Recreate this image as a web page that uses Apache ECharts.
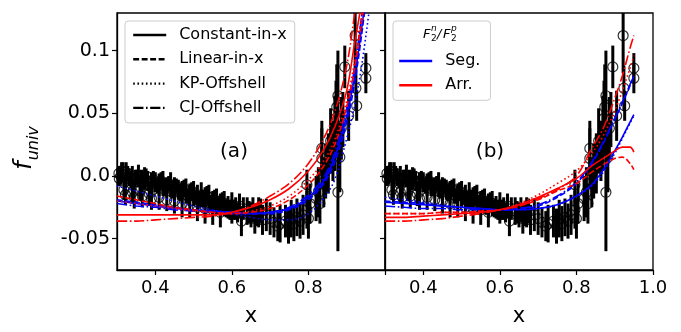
<!DOCTYPE html>
<html>
<head>
<meta charset="utf-8">
<script src="https://cdn.jsdelivr.net/npm/echarts@6/dist/echarts.min.js"></script>
<style>
  html, body { margin: 0; padding: 0; background: #fff; }
  #chart { width: 681px; height: 332px; }
</style>
</head>
<body>
<div id="chart"></div>
<script>
// measured points (same data in both panels)
const ptX = [
  0.305, 0.310, 0.316, 0.324, 0.332, 0.340, 0.348, 0.356, 0.364, 0.372,
  0.380, 0.390, 0.400, 0.410, 0.420, 0.430, 0.440, 0.450, 0.460, 0.470,
  0.480, 0.490, 0.500, 0.510, 0.520, 0.530, 0.540, 0.550, 0.560, 0.570,
  0.580, 0.590, 0.600, 0.610, 0.620,
  0.318, 0.322, 0.340, 0.345, 0.360, 0.366, 0.384, 0.390, 0.410, 0.430,
  0.450, 0.470, 0.490, 0.510, 0.530, 0.550, 0.570,
  0.306, 0.312, 0.328, 0.336, 0.352, 0.368, 0.376, 0.395, 0.405, 0.415,
  0.425, 0.435, 0.445, 0.455, 0.465, 0.475, 0.485, 0.495, 0.505, 0.515,
  0.525, 0.535, 0.545, 0.555, 0.565, 0.575, 0.585, 0.595, 0.605, 0.615,
  0.630, 0.645, 0.655, 0.665, 0.675,
  0.600, 0.625, 0.640, 0.650, 0.660, 0.670, 0.680, 0.690, 0.700, 0.710,
  0.720, 0.726, 0.740, 0.748, 0.755, 0.762, 0.770, 0.778, 0.786, 0.796,
  0.800, 0.804, 0.796,
  0.820, 0.826, 0.830, 0.835, 0.835, 0.840, 0.845, 0.852, 0.858, 0.864,
  0.869, 0.872, 0.874, 0.877, 0.877, 0.882, 0.886, 0.890, 0.895, 0.905,
  0.922, 0.924, 0.926, 0.950, 0.950
];
const ptY = [
  0.002, 0.000, 0.003, 0.001, -0.001, 0.000, -0.002, 0.000, -0.003, -0.002,
  -0.004, -0.006, -0.005, -0.007, -0.006, -0.009, -0.007, -0.010, -0.011, -0.013,
  -0.012, -0.015, -0.014, -0.016, -0.015, -0.018, -0.017, -0.021, -0.020, -0.023,
  -0.022, -0.025, -0.023, -0.026, -0.024,
  -0.011, -0.015, -0.013, -0.017, -0.012, -0.016, -0.014, -0.018, -0.017, -0.019,
  -0.020, -0.022, -0.023, -0.025, -0.026, -0.027, -0.029,
  -0.002, 0.004, 0.002, -0.003, -0.001, -0.004, 0.000, -0.003, -0.008, -0.004,
  -0.009, -0.006, -0.011, -0.008, -0.013, -0.010, -0.016, -0.012, -0.017, -0.019,
  -0.018, -0.016, -0.022, -0.019, -0.024, -0.021, -0.026, -0.027, -0.027, -0.029,
  -0.026, -0.029, -0.027, -0.031, -0.028,
  -0.030, -0.036, -0.028, -0.031, -0.034, -0.029, -0.035, -0.031, -0.034, -0.037,
  -0.040, -0.038, -0.036, -0.040, -0.034, -0.038, -0.033, -0.036, -0.031, -0.027,
  -0.034, -0.022, -0.007,
  -0.018, -0.013, -0.022, 0.014, 0.022, -0.005, 0.004, 0.010, 0.028, 0.020,
  0.034, 0.046, 0.055, 0.064, -0.013, 0.015, 0.038, 0.045, 0.087, 0.048,
  0.112, 0.070, 0.056, 0.086, 0.078
];
const ptErr = [
  0.006, 0.007, 0.008, 0.010, 0.007, 0.008, 0.007, 0.009, 0.008, 0.009,
  0.008, 0.009, 0.008, 0.009, 0.010, 0.008, 0.010, 0.009, 0.008, 0.009,
  0.010, 0.009, 0.010, 0.009, 0.010, 0.009, 0.010, 0.009, 0.010, 0.009,
  0.010, 0.009, 0.010, 0.009, 0.010,
  0.008, 0.008, 0.009, 0.009, 0.008, 0.009, 0.010, 0.009, 0.010, 0.009,
  0.010, 0.011, 0.010, 0.011, 0.012, 0.012, 0.012,
  0.006, 0.007, 0.006, 0.007, 0.006, 0.007, 0.006, 0.007, 0.006, 0.007,
  0.007, 0.006, 0.007, 0.006, 0.007, 0.007, 0.006, 0.007, 0.006, 0.007,
  0.007, 0.008, 0.007, 0.008, 0.007, 0.008, 0.007, 0.008, 0.008, 0.008,
  0.009, 0.009, 0.010, 0.009, 0.010,
  0.008, 0.012, 0.011, 0.010, 0.012, 0.012, 0.012, 0.013, 0.013, 0.012,
  0.012, 0.015, 0.013, 0.014, 0.015, 0.014, 0.015, 0.014, 0.016, 0.015,
  0.016, 0.016, 0.012,
  0.018, 0.020, 0.016, 0.024, 0.022, 0.020, 0.022, 0.024, 0.026, 0.024,
  0.030, 0.030, 0.034, 0.036, 0.047, 0.028, 0.025, 0.022, 0.017, 0.020,
  0.030, 0.018, 0.012, 0.012, 0.012
];

// model curves, panel (a)
const xA = [0.3, 0.35, 0.4, 0.45, 0.5, 0.55, 0.6, 0.65, 0.7, 0.75, 0.8, 0.84, 0.87, 0.9, 0.92, 0.94, 0.96];
const aBlueSolid   = [-0.020, -0.022, -0.024, -0.026, -0.027, -0.028, -0.029, -0.030, -0.029, -0.026, -0.017, -0.004, 0.016, 0.048, 0.078, 0.120, 0.170];
const aBlueDashed  = [-0.019, -0.021, -0.023, -0.025, -0.027, -0.028, -0.029, -0.030, -0.030, -0.027, -0.019, -0.006, 0.012, 0.043, 0.073, 0.115, 0.165];
const aBlueDotted  = [-0.008, -0.012, -0.016, -0.020, -0.024, -0.027, -0.030, -0.033, -0.035, -0.035, -0.030, -0.018, -0.002, 0.030, 0.055, 0.090, 0.135];
const aBlueDashDot = [-0.022, -0.024, -0.025, -0.027, -0.028, -0.029, -0.030, -0.030, -0.029, -0.025, -0.015, -0.001, 0.020, 0.054, 0.085, 0.130, 0.180];
const aRedSolid    = [-0.031, -0.031, -0.031, -0.031, -0.031, -0.031, -0.029, -0.025, -0.019, -0.010, 0.004, 0.021, 0.040, 0.068, 0.105, 0.140, 0.180];
const aRedDashed   = [-0.016, -0.019, -0.022, -0.025, -0.027, -0.029, -0.030, -0.029, -0.026, -0.019, -0.007, 0.008, 0.026, 0.055, 0.085, 0.125, 0.170];
const aRedDotted   = [-0.020, -0.022, -0.024, -0.026, -0.028, -0.029, -0.030, -0.028, -0.024, -0.016, -0.003, 0.012, 0.030, 0.060, 0.090, 0.130, 0.175];
const aRedDashDot  = [-0.036, -0.036, -0.035, -0.034, -0.033, -0.032, -0.029, -0.024, -0.016, -0.006, 0.010, 0.030, 0.052, 0.088, 0.128, 0.175, 0.220];

// model curves, panel (b)
const xB = [0.3, 0.35, 0.4, 0.45, 0.5, 0.55, 0.6, 0.65, 0.7, 0.75, 0.8, 0.84, 0.87, 0.9, 0.92, 0.94, 0.95];
const bBlueSolid   = [-0.021, -0.022, -0.023, -0.024, -0.025, -0.026, -0.027, -0.027, -0.026, -0.023, -0.016, -0.007, 0.005, 0.020, 0.031, 0.043, 0.049];
const bBlueDashed  = [-0.020, -0.021, -0.022, -0.024, -0.025, -0.026, -0.027, -0.026, -0.024, -0.017, -0.006, 0.010, 0.026, 0.045, 0.058, 0.072, 0.080];
const bBlueDotted  = [-0.017, -0.019, -0.021, -0.023, -0.025, -0.026, -0.027, -0.027, -0.026, -0.023, -0.016, -0.008, 0.003, 0.018, 0.030, 0.042, 0.048];
const bBlueDashDot = [-0.024, -0.025, -0.026, -0.026, -0.027, -0.027, -0.027, -0.026, -0.023, -0.016, -0.005, 0.011, 0.027, 0.046, 0.059, 0.073, 0.080];
const bRedSolid    = [-0.033, -0.033, -0.032, -0.031, -0.030, -0.029, -0.027, -0.023, -0.017, -0.010, -0.002, 0.008, 0.014, 0.020, 0.023, 0.023, 0.019];
const bRedDashed   = [-0.030, -0.030, -0.030, -0.029, -0.029, -0.028, -0.027, -0.024, -0.019, -0.012, -0.006, 0.003, 0.009, 0.014, 0.015, 0.010, 0.005];
const bRedDotted   = [-0.030, -0.030, -0.030, -0.029, -0.029, -0.028, -0.027, -0.022, -0.015, -0.006, 0.004, 0.018, 0.032, 0.052, 0.068, 0.086, 0.096];
const bRedDashDot  = [-0.036, -0.036, -0.035, -0.034, -0.032, -0.030, -0.027, -0.024, -0.018, -0.011, 0.000, 0.022, 0.038, 0.062, 0.080, 0.102, 0.112];

const modelNames = ['Constant-in-x', 'Linear-in-x', 'KP-Offshell', 'CJ-Offshell'];
const ratioNames = ['Seg.', 'Arr.'];
const xTicks = [0.4, 0.6, 0.8, 1.0];
const yTicks = [-0.05, 0, 0.05, 0.1];

const BLUE = '#0000ff', RED = '#ff0000';
const LW = 1.6;
const dashes = {
  solid: 'solid',
  dashed: [3.7 * LW, 1.6 * LW],
  dotted: [1 * LW, 1.65 * LW],
  dashdot: [6.4 * LW, 1.6 * LW, 1 * LW, 1.6 * LW]
};
const FONT = 'DejaVu Sans';

const chart = echarts.init(document.getElementById('chart'));

function curve(g, xs, ys, color, dash) {
  return {
    type: 'line',
    xAxisIndex: g, yAxisIndex: g,
    data: xs.map(function (x, i) { return [x, ys[i]]; }),
    symbol: 'none',
    smooth: 0.35,
    clip: true,
    silent: true,
    lineStyle: { color: color, width: LW, type: dash },
    z: 4
  };
}

function errBars(g) {
  return {
    type: 'custom',
    xAxisIndex: g, yAxisIndex: g,
    data: ptX.map(function (x, i) { return [x, ptY[i], ptErr[i]]; }),
    encode: { x: 0, y: 1 },
    silent: true,
    z: 2,
    renderItem: function (params, api) {
      const x = api.value(0), y = api.value(1), e = api.value(2);
      const a = api.coord([x, y + e]);
      const b = api.coord([x, y - e]);
      const cs = params.coordSys;
      return {
        type: 'line',
        shape: { x1: a[0], y1: Math.max(a[1], cs.y), x2: b[0], y2: Math.min(b[1], cs.y + cs.height) },
        style: { stroke: '#000', lineWidth: 3 }
      };
    }
  };
}

function circles(g) {
  return {
    type: 'scatter',
    xAxisIndex: g, yAxisIndex: g,
    data: ptX.map(function (x, i) { return [x, ptY[i]]; }),
    symbol: 'circle',
    symbolSize: 10,
    silent: true,
    itemStyle: { color: 'rgba(0,0,0,0)', borderColor: '#000', borderWidth: 1.2 },
    z: 3
  };
}

function panelSeries(g, xs, set) {
  return [
    errBars(g), circles(g),
    curve(g, xs, set[0], BLUE, dashes.solid),
    curve(g, xs, set[1], BLUE, dashes.dashed),
    curve(g, xs, set[2], BLUE, dashes.dotted),
    curve(g, xs, set[3], BLUE, dashes.dashdot),
    curve(g, xs, set[4], RED, dashes.solid),
    curve(g, xs, set[5], RED, dashes.dashed),
    curve(g, xs, set[6], RED, dashes.dotted),
    curve(g, xs, set[7], RED, dashes.dashdot)
  ];
}

// empty series that only feed the legends (transparent symbol -> line-only icon)
const styleList = [dashes.solid, dashes.dashed, dashes.dotted, dashes.dashdot];
const hiddenMark = { color: 'rgba(0,0,0,0)', borderColor: 'rgba(0,0,0,0)', borderWidth: 0 };
const legendSeries = modelNames.map(function (n, i) {
  return { type: 'line', name: n, data: [], symbol: 'none', lineStyle: { color: '#000', width: 2.4, type: styleList[i] }, itemStyle: hiddenMark };
}).concat(ratioNames.map(function (n, i) {
  const c = i === 0 ? BLUE : RED;
  return { type: 'line', name: n, data: [], symbol: 'none', lineStyle: { color: c, width: 2.4 }, itemStyle: hiddenMark };
}));

function xAxisFor(g) {
  return {
    type: 'value', gridIndex: g, min: 0.3, max: 1.0,
    axisLine: { show: true, onZero: false, lineStyle: { color: '#000', width: 1.3 } },
    axisTick: { show: true, length: 5, customValues: xTicks, lineStyle: { color: '#000', width: 1.2 } },
    axisLabel: {
      customValues: g === 0 ? xTicks.slice(0, 3) : xTicks,
      formatter: function (v) { return v.toFixed(1); },
      fontSize: 18, fontFamily: FONT, color: '#000', margin: 9
    },
    splitLine: { show: false },
    name: 'x', nameLocation: 'middle', nameGap: 36,
    nameTextStyle: { fontSize: 21, fontFamily: FONT, color: '#000' }
  };
}

function yAxisFor(g) {
  return {
    type: 'value', gridIndex: g, min: -0.075, max: 0.13,
    axisLine: { show: true, onZero: false, lineStyle: { color: '#000', width: 1.3 } },
    axisTick: { show: true, length: 5, customValues: yTicks, lineStyle: { color: '#000', width: 1.2 } },
    axisLabel: {
      show: g === 0,
      customValues: yTicks,
      formatter: function (v) { return v === 0 ? '0.0' : String(v); },
      fontSize: 19, fontFamily: FONT, color: '#000', margin: 7
    },
    splitLine: { show: false }
  };
}

const legendBox = {
  orient: 'vertical',
  itemWidth: 33, itemHeight: 14, itemGap: 8.3,
  backgroundColor: 'rgba(255,255,255,0.85)',
  borderColor: '#cccccc', borderWidth: 1, borderRadius: 3,
  selectedMode: false,
  lineStyle: { width: 2.4 },
  textStyle: { fontSize: 16, fontFamily: FONT, color: '#000', padding: [0, 0, 0, 8] }
};

const option = {
  animation: false,
  backgroundColor: '#fff',
  grid: [
    { left: 117, top: 13, width: 268, height: 265, show: true, borderColor: '#000', borderWidth: 1.3, backgroundColor: 'transparent' },
    { left: 385, top: 13, width: 268, height: 265, show: true, borderColor: '#000', borderWidth: 1.3, backgroundColor: 'transparent' }
  ],
  xAxis: [xAxisFor(0), xAxisFor(1)],
  yAxis: [yAxisFor(0), yAxisFor(1)],
  legend: [
    Object.assign({}, legendBox, { data: modelNames, left: 125, top: 21, padding: [6, 8, 7, 7] }),
    Object.assign({}, legendBox, { data: ratioNames, left: 393, top: 21, padding: [32, 10, 7, 5] })
  ],
  graphic: [
    { type: 'text', x: 234, y: 152, z: 50, style: { text: '(a)', font: '20px "DejaVu Sans"', fill: '#000', textAlign: 'center', textVerticalAlign: 'middle' } },
    { type: 'text', x: 490, y: 152, z: 50, style: { text: '(b)', font: '20px "DejaVu Sans"', fill: '#000', textAlign: 'center', textVerticalAlign: 'middle' } },
    {
      type: 'text', x: 27, y: 148, rotation: Math.PI / 2, z: 50,
      style: {
        text: '{f|f}{s|univ}', textAlign: 'center', textVerticalAlign: 'middle',
        rich: {
          f: { fontSize: 24, fontStyle: 'italic', fontFamily: FONT, fill: '#000', verticalAlign: 'bottom', padding: [0, 1, 5, 0] },
          s: { fontSize: 16, fontStyle: 'italic', fontFamily: FONT, fill: '#000', verticalAlign: 'bottom' }
        }
      }
    },
    // legend title F2n/F2p
    { type: 'text', x: 423, y: 35, z: 60, style: { text: 'F', font: 'italic 13px "DejaVu Sans"', fill: '#000', textVerticalAlign: 'middle' } },
    { type: 'text', x: 431, y: 29, z: 60, style: { text: 'n', font: 'italic 9px "DejaVu Sans"', fill: '#000', textVerticalAlign: 'middle' } },
    { type: 'text', x: 431, y: 39, z: 60, style: { text: '2', font: '9px "DejaVu Sans"', fill: '#000', textVerticalAlign: 'middle' } },
    { type: 'text', x: 437, y: 35, z: 60, style: { text: '/', font: 'italic 13px "DejaVu Sans"', fill: '#000', textVerticalAlign: 'middle' } },
    { type: 'text', x: 443, y: 35, z: 60, style: { text: 'F', font: 'italic 13px "DejaVu Sans"', fill: '#000', textVerticalAlign: 'middle' } },
    { type: 'text', x: 451, y: 29, z: 60, style: { text: 'p', font: 'italic 9px "DejaVu Sans"', fill: '#000', textVerticalAlign: 'middle' } },
    { type: 'text', x: 451, y: 39, z: 60, style: { text: '2', font: '9px "DejaVu Sans"', fill: '#000', textVerticalAlign: 'middle' } }
  ],
  series: panelSeries(0, xA, [aBlueSolid, aBlueDashed, aBlueDotted, aBlueDashDot, aRedSolid, aRedDashed, aRedDotted, aRedDashDot])
    .concat(panelSeries(1, xB, [bBlueSolid, bBlueDashed, bBlueDotted, bBlueDashDot, bRedSolid, bRedDashed, bRedDotted, bRedDashDot]))
    .concat(legendSeries)
};

chart.setOption(option);
</script>
</body>
</html>
